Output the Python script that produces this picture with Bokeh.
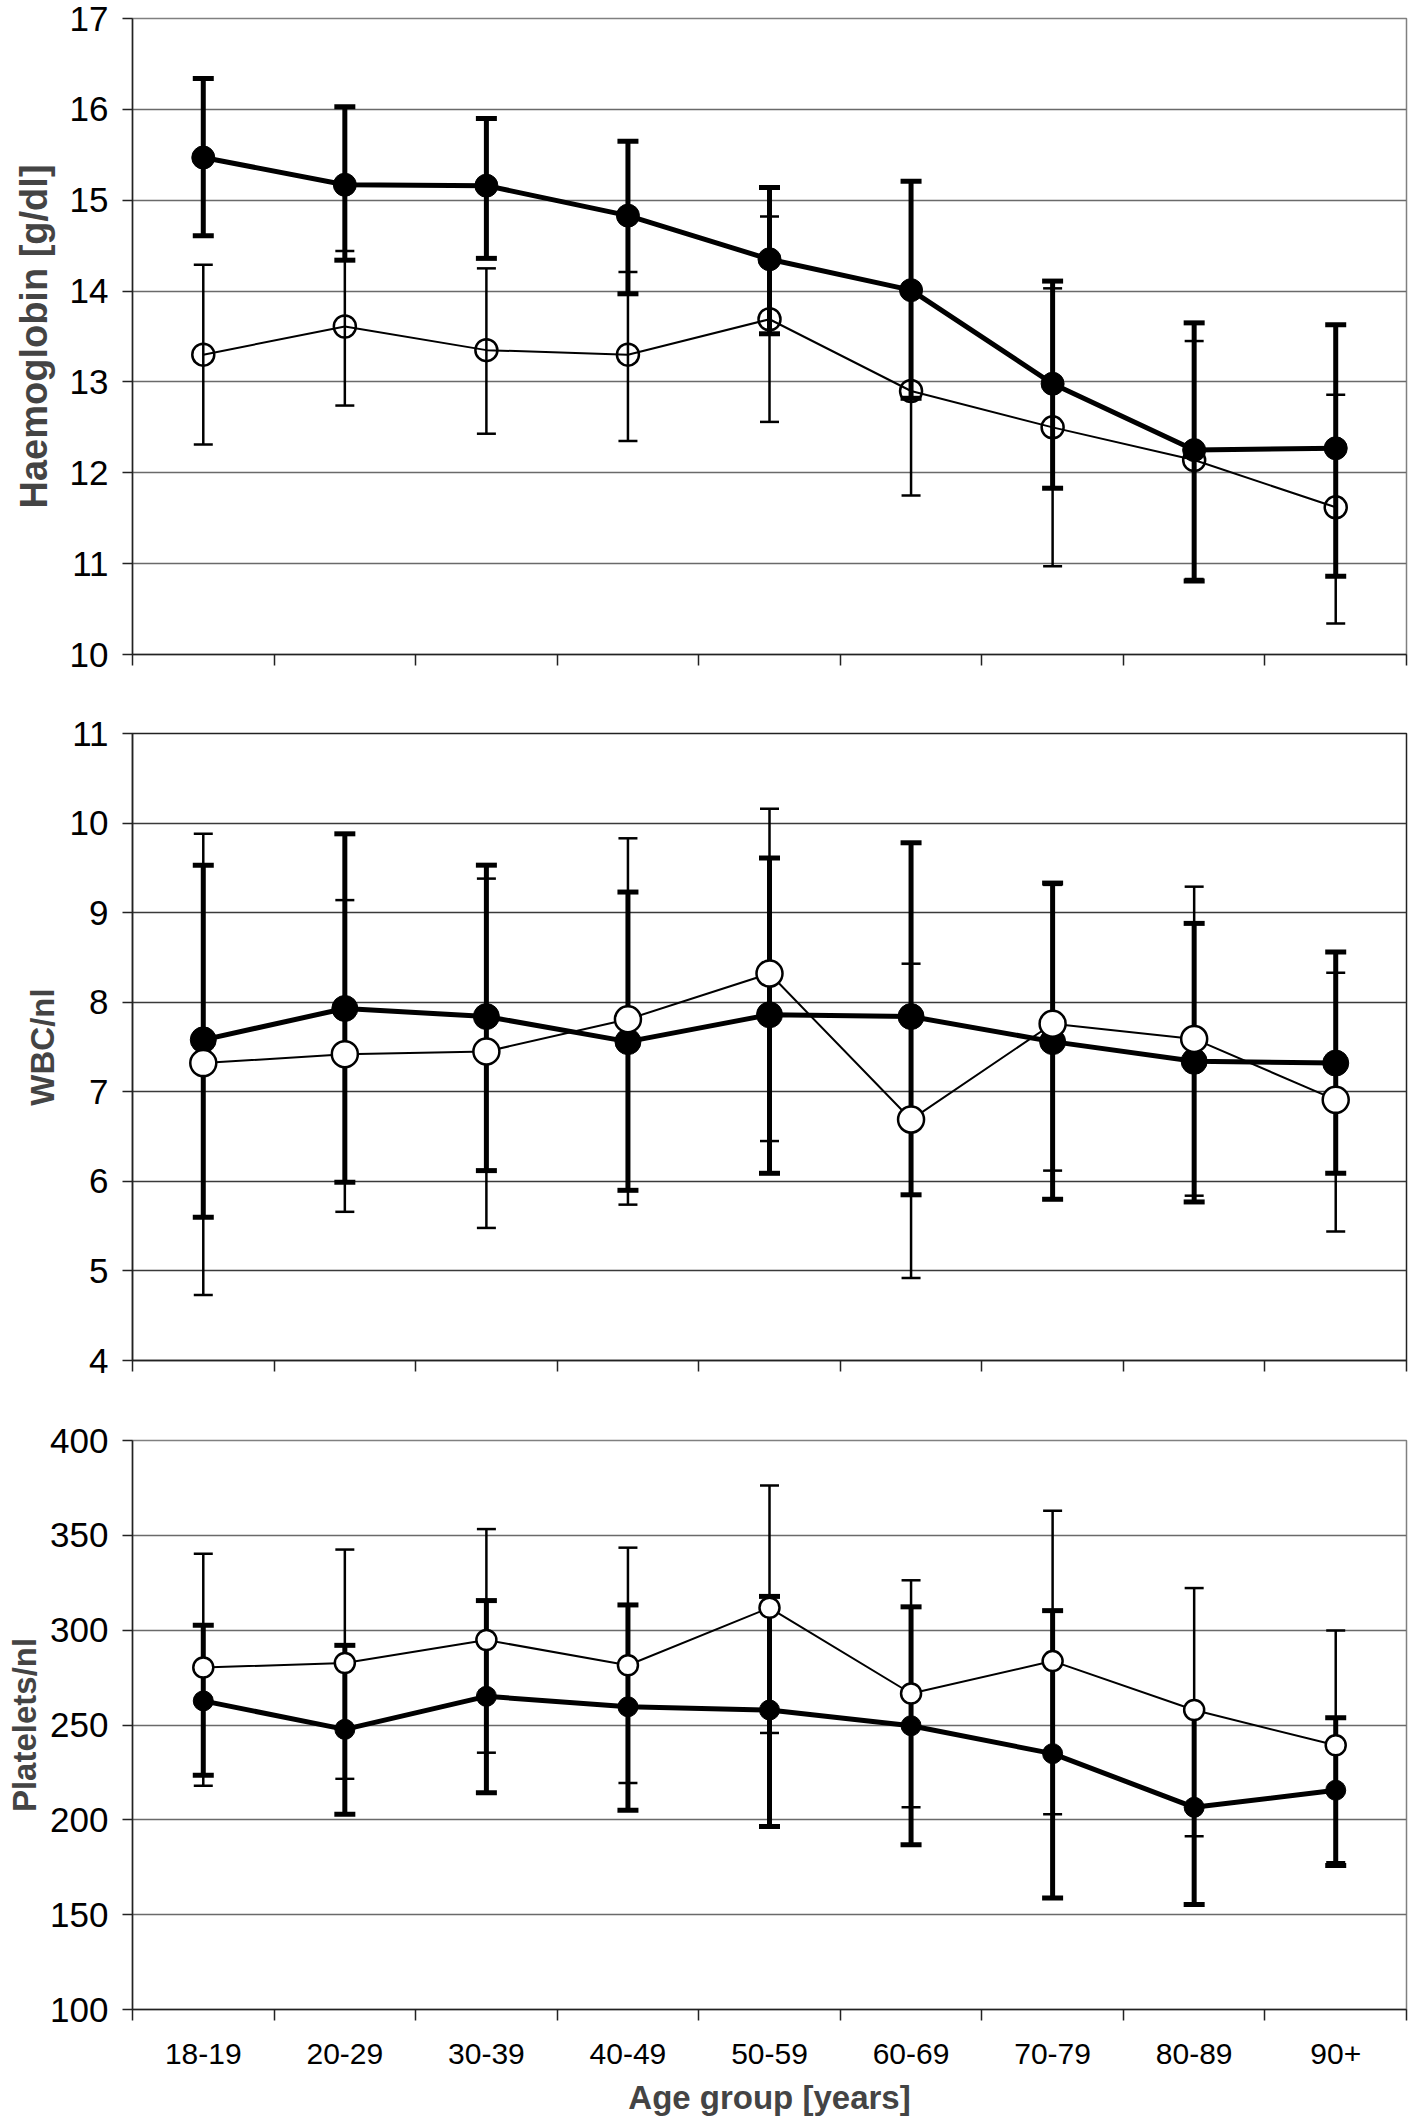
from bokeh.plotting import figure
from bokeh.models import Range1d, FixedTicker, ColumnDataSource
from bokeh.layouts import column
from bokeh.embed import file_html
from bokeh.resources import INLINE

# ---------------- data ----------------
age_groups = ["18-19", "20-29", "30-39", "40-49", "50-59", "60-69", "70-79", "80-89", "90+"]

# Haemoglobin [g/dl]
hb_filled_mean = [15.47, 15.17, 15.16, 14.83, 14.35, 14.01, 12.98, 12.25, 12.27]
hb_filled_up = [16.34, 16.03, 15.90, 15.65, 15.14, 15.21, 14.11, 13.65, 13.63]
hb_filled_lo = [14.61, 14.34, 14.36, 13.97, 13.53, 12.82, 11.83, 10.81, 10.86]
hb_open_mean = [13.30, 13.61, 13.35, 13.30, 13.69, 12.90, 12.50, 12.14, 11.62]
hb_open_up = [14.29, 14.44, 14.25, 14.21, 14.82, 14.05, 14.03, 13.45, 12.86]
hb_open_lo = [12.31, 12.74, 12.43, 12.35, 12.56, 11.75, 10.97, 10.83, 10.34]
hb_ticks = [10, 11, 12, 13, 14, 15, 16, 17]

# WBC/nl
wbc_filled_mean = [7.58, 7.93, 7.84, 7.56, 7.86, 7.84, 7.56, 7.34, 7.32]
wbc_filled_up = [9.53, 9.88, 9.53, 9.23, 9.61, 9.78, 9.33, 8.88, 8.56]
wbc_filled_lo = [5.60, 5.99, 6.12, 5.90, 6.09, 5.85, 5.80, 5.77, 6.09]
wbc_open_mean = [7.32, 7.42, 7.45, 7.81, 8.32, 6.69, 7.76, 7.59, 6.91]
wbc_open_up = [9.88, 9.14, 9.38, 9.83, 10.16, 8.43, 9.31, 9.29, 8.33]
wbc_open_lo = [4.73, 5.66, 5.48, 5.74, 6.45, 4.92, 6.12, 5.84, 5.44]
wbc_ticks = [4, 5, 6, 7, 8, 9, 10, 11]

# Platelets/nl
plt_filled_mean = [262.7, 247.7, 265.1, 259.6, 257.9, 249.6, 234.9, 206.6, 215.6]
plt_filled_up = [302.6, 292.0, 315.6, 313.3, 317.8, 312.3, 310.3, 257.8, 253.8]
plt_filled_lo = [223.5, 203.0, 214.3, 205.1, 196.5, 186.8, 158.8, 155.4, 175.9]
plt_open_mean = [280.3, 282.7, 294.8, 281.5, 311.8, 266.6, 283.7, 257.9, 239.3]
plt_open_up = [340.3, 342.5, 353.3, 343.5, 376.3, 326.3, 363.0, 322.2, 299.8]
plt_open_lo = [218.0, 221.6, 235.4, 219.4, 245.8, 206.6, 203.0, 191.4, 177.6]
plt_ticks = [100, 150, 200, 250, 300, 350, 400]

FONT = "Liberation Sans"
N = len(age_groups)
centers = [i + 0.5 for i in range(N)]          # category centres on a 0..N axis
bounds = list(range(N + 1))                      # category boundaries


def panel(ylabel, ticks, filled, open_, height, top, bottom, left,
          label_size, label_standoff, msize, open_white, grid_color,
          outline_color, show_x):
    p = figure(width=1412, height=height, x_range=Range1d(0, N),
               y_range=Range1d(ticks[0], ticks[-1]),
               output_backend="svg", toolbar_location=None,
               min_border_left=left, min_border_right=6,
               min_border_top=top, min_border_bottom=bottom)

    # y axis
    ya = p.yaxis[0]
    ya.ticker = FixedTicker(ticks=ticks)
    ya.axis_label = ylabel
    ya.axis_label_text_font = FONT
    ya.axis_label_text_font_style = "bold"
    ya.axis_label_text_font_size = f"{label_size}px"
    ya.axis_label_standoff = label_standoff
    ya.major_label_text_font = FONT
    ya.major_label_text_font_size = "35px"
    ya.major_label_text_color = "black"
    ya.major_label_standoff = 14
    ya.major_tick_out = 10
    ya.major_tick_in = 0
    ya.minor_tick_line_color = None
    ya.axis_line_width = 1.5
    ya.major_tick_line_width = 1.5
    ya.axis_line_color = "#222222"
    ya.major_tick_line_color = "#222222"

    for g in p.ygrid:
        g.ticker = FixedTicker(ticks=ticks)
        g.grid_line_color = grid_color
        g.grid_line_width = 1.5
    for g in p.xgrid:
        g.visible = False

    # x axis: labels at category centres, tick marks at category boundaries
    xa = p.xaxis[0]
    xa.major_tick_line_color = None
    xa.minor_tick_out = 11
    xa.minor_tick_in = 0
    xa.minor_tick_line_color = "#222222"
    xa.minor_tick_line_width = 1.5
    xa.axis_line_width = 1.5
    xa.axis_line_color = "#222222"
    if show_x:
        xa.ticker = FixedTicker(ticks=centers, minor_ticks=bounds)
        xa.major_label_overrides = {c: name for c, name in zip(centers, age_groups)}
        xa.major_label_text_font = FONT
        xa.major_label_text_color = "black"
        xa.major_label_text_font_size = "30px"
        xa.major_label_standoff = 23
        xa.axis_label = "Age group [years]"
        xa.axis_label_text_font = FONT
        xa.axis_label_text_font_style = "bold"
        xa.axis_label_text_font_size = "33px"
        xa.axis_label_standoff = 12
    else:
        xa.ticker = FixedTicker(ticks=[], minor_ticks=bounds)

    p.outline_line_color = outline_color
    p.outline_line_width = 1.5
    p.background_fill_color = "white"
    p.border_fill_color = "white"

    def draw_filled():
        src = ColumnDataSource(dict(x=centers, y=filled[0], up=filled[1], lo=filled[2]))
        p.line("x", "y", source=src, line_color="black", line_width=5)
        p.segment(x0="x", y0="lo", x1="x", y1="up", source=src, line_color="black", line_width=5)
        p.scatter("x", "up", source=src, marker="dash", size=21, line_color="black", line_width=5)
        p.scatter("x", "lo", source=src, marker="dash", size=21, line_color="black", line_width=5)
        p.scatter("x", "y", source=src, marker="circle", size=msize, fill_color="black",
                  line_color="black", line_width=1)

    def draw_open():
        src = ColumnDataSource(dict(x=centers, y=open_[0], up=open_[1], lo=open_[2]))
        p.line("x", "y", source=src, line_color="black", line_width=2)
        p.segment(x0="x", y0="lo", x1="x", y1="up", source=src, line_color="black", line_width=2.5)
        p.scatter("x", "up", source=src, marker="dash", size=19, line_color="black", line_width=2.5)
        p.scatter("x", "lo", source=src, marker="dash", size=19, line_color="black", line_width=2.5)
        if open_white:
            p.scatter("x", "y", source=src, marker="circle", size=msize, fill_color="white",
                      line_color="black", line_width=2.5)
        else:
            p.scatter("x", "y", source=src, marker="circle", size=msize - 1, fill_alpha=0,
                      line_color="black", line_width=2.5)

    if open_white:
        draw_filled()
        draw_open()
    else:
        draw_open()
        draw_filled()
    return p


p1 = panel("Haemoglobin [g/dl]", hb_ticks,
           (hb_filled_mean, hb_filled_up, hb_filled_lo),
           (hb_open_mean, hb_open_up, hb_open_lo),
           height=700, top=18, bottom=46, left=128, label_size=38, label_standoff=12,
           msize=23, open_white=False, grid_color="#6a6a6a", outline_color="#808080",
           show_x=False)
p2 = panel("WBC/nl", wbc_ticks,
           (wbc_filled_mean, wbc_filled_up, wbc_filled_lo),
           (wbc_open_mean, wbc_open_up, wbc_open_lo),
           height=712, top=33, bottom=52, left=128, label_size=33, label_standoff=6,
           msize=26, open_white=True, grid_color="#3a3a3a", outline_color="#222222",
           show_x=False)
p3 = panel("Platelets/nl", plt_ticks,
           (plt_filled_mean, plt_filled_up, plt_filled_lo),
           (plt_open_mean, plt_open_up, plt_open_lo),
           height=706, top=28, bottom=109, left=132, label_size=33, label_standoff=4,
           msize=20, open_white=True, grid_color="#6a6a6a", outline_color="#808080",
           show_x=True)

layout = column(p1, p2, p3, spacing=0)
open("out.html", "w").write(file_html(layout, INLINE))
